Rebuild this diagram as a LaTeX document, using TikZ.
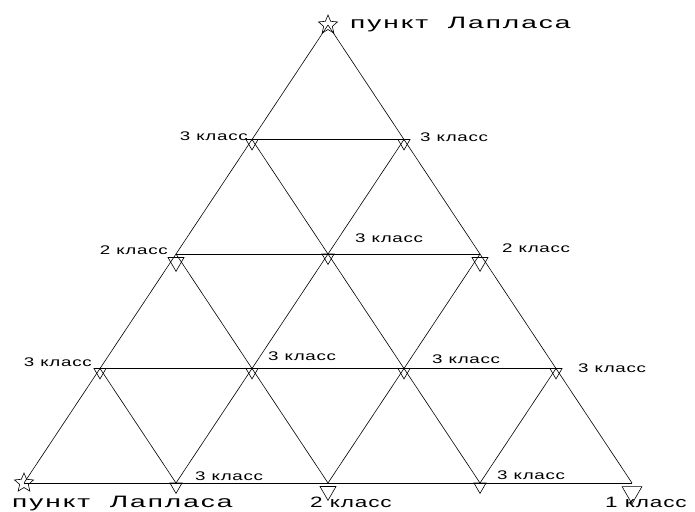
\documentclass[tikz,border=0pt]{standalone}
\usepackage{fontspec}
\setmainfont{Liberation Sans}
\newfontfamily\cadfont[FakeStretch=1.5,LetterSpace=6]{Liberation Sans}
\newfontfamily\lapfont[FakeStretch=1.7,LetterSpace=12]{Liberation Sans}
\usepackage{tikz}
\usetikzlibrary{shapes.geometric,calc}

\tikzset{
  netline/.style={line width=0.6pt},
  pt3/.style={draw, line width=0.6pt, regular polygon, regular polygon sides=3,
    shape border rotate=180, inner sep=0pt, minimum size=13.9pt, yshift=-3.5pt},
  pt2/.style={pt3, minimum size=18.5pt, yshift=-4.6pt},
  pt1/.style={pt3, minimum size=23pt, yshift=-5.8pt},
  lap/.style={draw, line width=0.6pt, star, star points=5, star point ratio=2.2,
    minimum size=20pt, inner sep=0pt},
  cls/.style={font=\cadfont\fontsize{12.5}{14}\selectfont, inner sep=0pt},
  big/.style={font=\cadfont\fontsize{15}{17}\selectfont, inner sep=0pt},
  lapl/.style={font=\lapfont\fontsize{16.5}{18}\selectfont, inner sep=0pt}
}

\begin{document}
\begin{tikzpicture}[x=1pt,y=1pt]
\useasboundingbox (0,0) rectangle (695,511);
% points of the net, row r, column c
\foreach \r in {0,...,4}{
  \foreach \c in {0,...,\r}{
    \coordinate (p\r\c) at ({328+152*(\c-\r/2)},{486-114.5*\r});
  }
}
% sides
\foreach \r in {1,...,4}{
  \draw[netline] (p\r0) -- (p\r\r);
}
\foreach \r in {0,...,3}{
  \foreach \c in {0,...,\r}{
    \pgfmathtruncatemacro{\rr}{\r+1}
    \pgfmathtruncatemacro{\cc}{\c+1}
    \draw[netline] (p\r\c) -- (p\rr\c) (p\r\c) -- (p\rr\cc);
  }
}
% Laplace points
\node[lap] (m00) at (p00) {};
\node[lap] (m40) at (p40) {};
% triangulation points
\node[pt3] (m10) at (p10) {};
\node[pt3] (m11) at (p11) {};
\node[pt2] (m20) at (p20) {};
\node[pt3] (m21) at (p21) {};
\node[pt2] (m22) at (p22) {};
\foreach \c in {0,...,3}{
  \node[pt3] (m3\c) at (p3\c) {};
}
\node[pt3] (m41) at (p41) {};
\node[pt2] (m42) at (p42) {};
\node[pt3] (m43) at (p43) {};
\node[pt1] (m44) at (p44) {};
% labels
\node[lapl, anchor=base west] (t00) at (350,482) {пункт\ \ Лапласа};
\node[cls, anchor=base east] (t10) at (248,370) {3 класс};
\node[cls, anchor=base west] (t11) at (420,369.5) {3 класс};
\node[cls, anchor=base east] (t20) at (168,256) {2 класс};
\node[cls, anchor=base west] (t21) at (355,268) {3 класс};
\node[cls, anchor=base west] (t22) at (502,258) {2 класс};
\node[cls, anchor=base east] (t30) at (92,144) {3 класс};
\node[cls, anchor=base west] (t31) at (268,150) {3 класс};
\node[cls, anchor=base west] (t32) at (432,147.7) {3 класс};
\node[cls, anchor=base west] (t33) at (578,138.3) {3 класс};
\node[lapl, anchor=base west] (t40) at (12,4) {пункт\ \ Лапласа};
\node[cls, anchor=base west] (t41) at (195,31) {3 класс};
\node[big, anchor=base west] (t42) at (310,4) {2 класс};
\node[cls, anchor=base west] (t43) at (497,32) {3 класс};
\node[big, anchor=base west] (t44) at (605,4) {1 класс};
\end{tikzpicture}
\end{document}
